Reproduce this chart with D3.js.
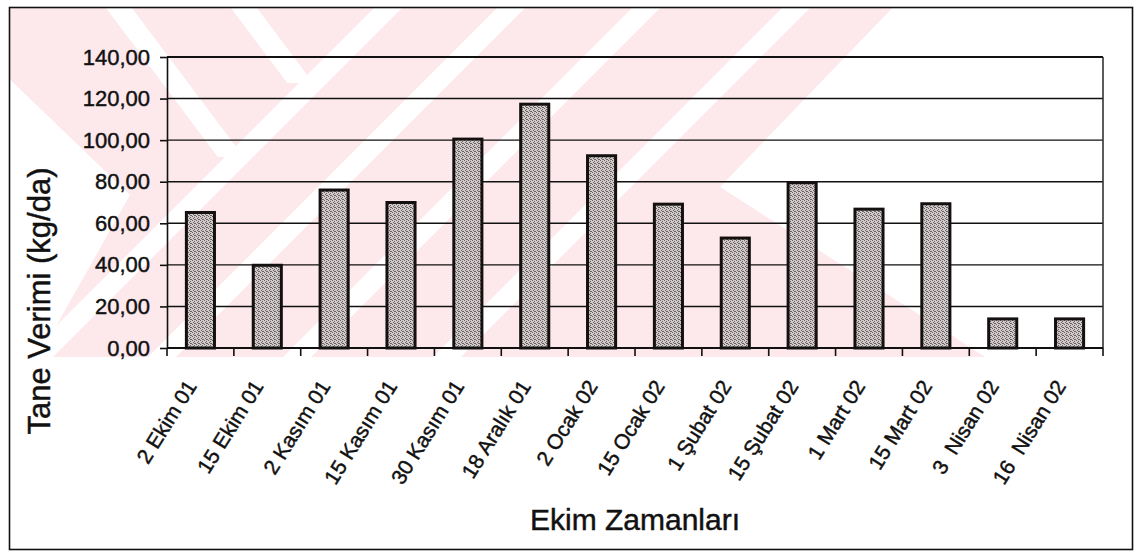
<!DOCTYPE html>
<html lang="tr">
	<head>
		<meta charset="utf-8">
		<title>Tane Verimi</title>
		<script src="https://cdn.jsdelivr.net/npm/d3@7"></script>
		<style>
			body { margin: 0; background: #fff; }
			text { font-family: "Liberation Sans", Arial, sans-serif; fill: #111; stroke: #111; stroke-width: 0.45px; }
			.xlab { white-space: pre; }
		</style>
	</head>
	<body>
		<script>
			// ekim zamanlari ve tane verimi (kg/da)
			var categories = ["2 Ekim 01", "15 Ekim 01", "2 Kasım 01", "15 Kasım 01", "30 Kasım 01",
				"18 Aralık 01", "2 Ocak 02", "15 Ocak 02", "1 Şubat 02", "15 Şubat 02",
				"1 Mart 02", "15 Mart 02", "3  Nisan 02", "16  Nisan 02"];
			var values = [65.2, 39.8, 76.0, 70.0, 100.5, 117.3, 92.5, 69.2, 52.9, 79.5, 66.8, 69.4, 14.0, 14.0];
			var yTicks = [0, 20, 40, 60, 80, 100, 120, 140];

			var w = 1136, h = 554;
			var mLeft = 167, mRight = 1103, mTop = 57, mBottom = 348;

			var locale = d3.formatLocale({decimal: ",", thousands: ".", grouping: [3], currency: ["", ""]});
			var fmt = locale.format(".2f");

			var svg = d3.select("body").append("svg")
				.attr("width", w)
				.attr("height", h);

			var defs = svg.append("defs");

			// noktali gri dolgu (tarama gibi)
			var pat = defs.append("pattern")
				.attr("id", "dots")
				.attr("width", 4).attr("height", 4)
				.attr("patternUnits", "userSpaceOnUse");
			pat.append("rect").attr("width", 4).attr("height", 4).attr("fill", "#d0caca");
			[[0, 0], [2, 1], [1, 2], [3, 3], [2, 3]].forEach(function(p) {
				pat.append("rect").attr("x", p[0]).attr("y", p[1])
					.attr("width", 1).attr("height", 1).attr("fill", "#6a6262");
			});

			// arka plandaki soluk pembe filigran
			defs.append("clipPath").attr("id", "wmclip")
				.append("rect").attr("x", 10).attr("y", 8).attr("width", 1122).attr("height", 349);
			var wm = svg.append("g").attr("clip-path", "url(#wmclip)");
			var pink = "#fde8ec";
			wm.append("polygon")
				.attr("points", "0,0 900,0 720,187 990,360 0,360")
				.attr("fill", pink);
			// "/" yonunde beyaz seritler
			[382, 505, 640, 790].forEach(function(x0) {
				wm.append("polygon")
					.attr("points", [[x0, 0], [x0 + 28, 0], [x0 + 28 - 360, 360], [x0 - 360, 360]].join(" "))
					.attr("fill", "#fff");
			});
			// sol ustte "\" yonunde beyaz seritler
			[[100, 157], [225, 83]].forEach(function(s) {
				var x0 = s[0], yEnd = s[1];
				wm.append("polygon")
					.attr("points", [[x0, 0], [x0 + 26, 0], [x0 + 26 + yEnd * 0.75, yEnd], [x0 + yEnd * 0.75, yEnd]].join(" "))
					.attr("fill", "#fff");
			});
			// sol kenardaki beyaz ucgen
			wm.append("polygon")
				.attr("points", "0,70 130,195 37,360 0,360")
				.attr("fill", "#fff");

			// dis cerceve
			svg.append("rect")
				.attr("x", 9.5).attr("y", 7.5)
				.attr("width", 1123).attr("height", 542)
				.attr("fill", "none")
				.attr("stroke", "#111")
				.attr("stroke-width", 1.6);

			var xScale = d3.scaleBand()
				.domain(categories)
				.range([mLeft, mRight])
				.paddingInner(0.58)
				.paddingOuter(0.29);

			var yScale = d3.scaleLinear()
				.domain([0, 140])
				.range([mBottom, mTop]);

			// yatay kilavuz cizgileri
			svg.selectAll(".grid")
				.data(yTicks)
				.enter()
				.append("line")
				.attr("class", "grid")
				.attr("x1", mLeft).attr("x2", mRight)
				.attr("y1", function(d) { return yScale(d); })
				.attr("y2", function(d) { return yScale(d); })
				.attr("stroke", "#111")
				.attr("stroke-width", function(d) { return d === 140 ? 2 : 1.4; });

			// sag kenar
			svg.append("line")
				.attr("x1", mRight).attr("x2", mRight)
				.attr("y1", mTop).attr("y2", mBottom)
				.attr("stroke", "#333")
				.attr("stroke-width", 1.6);

			// y ekseni
			var yAxis = d3.axisLeft(yScale)
				.tickValues(yTicks)
				.tickFormat(fmt)
				.tickSizeInner(7)
				.tickSizeOuter(0)
				.tickPadding(10);
			var gy = svg.append("g")
				.attr("transform", "translate(" + mLeft + ",0)")
				.call(yAxis);
			gy.selectAll("line, path").attr("stroke", "#111").attr("stroke-width", 1.6);
			gy.selectAll("text").attr("font-size", 22).attr("fill", "#111")
				.attr("font-family", "Liberation Sans, Arial, sans-serif");

			// cubuklar
			svg.selectAll(".bar")
				.data(values)
				.enter()
				.append("rect")
				.attr("class", "bar")
				.attr("x", function(d, i) { return xScale(categories[i]); })
				.attr("y", function(d) { return yScale(d); })
				.attr("width", xScale.bandwidth())
				.attr("height", function(d) { return mBottom - yScale(d); })
				.attr("fill", "url(#dots)")
				.attr("stroke", "#141010")
				.attr("stroke-width", 3);

			// x ekseni: kategori sinirlarinda tik
			var step = xScale.step();
			var edges = d3.range(categories.length + 1).map(function(i) { return mLeft + i * step; });
			svg.append("line")
				.attr("x1", mLeft).attr("x2", mRight)
				.attr("y1", mBottom).attr("y2", mBottom)
				.attr("stroke", "#111").attr("stroke-width", 2);
			svg.selectAll(".xtick")
				.data(edges)
				.enter()
				.append("line")
				.attr("class", "xtick")
				.attr("x1", function(d) { return d; }).attr("x2", function(d) { return d; })
				.attr("y1", mBottom).attr("y2", mBottom + 8)
				.attr("stroke", "#111").attr("stroke-width", 1.6);

			svg.selectAll(".xlab")
				.data(categories)
				.enter()
				.append("text")
				.attr("class", "xlab")
				.attr("text-anchor", "end")
				.attr("font-size", 21)
				.attr("transform", function(d) {
					var cx = xScale(d) + xScale.bandwidth() / 2;
					return "translate(" + (cx - 3) + ",386) rotate(-58)";
				})
				.text(function(d) { return d; });

			// eksen basliklari
			svg.append("text")
				.attr("transform", "translate(50,301) rotate(-90)")
				.attr("text-anchor", "middle")
				.attr("font-size", 31)
				.text("Tane Verimi (kg/da)");

			svg.append("text")
				.attr("x", 635).attr("y", 530)
				.attr("text-anchor", "middle")
				.attr("font-size", 30)
				.text("Ekim Zamanları");
		</script>
	</body>
</html>
